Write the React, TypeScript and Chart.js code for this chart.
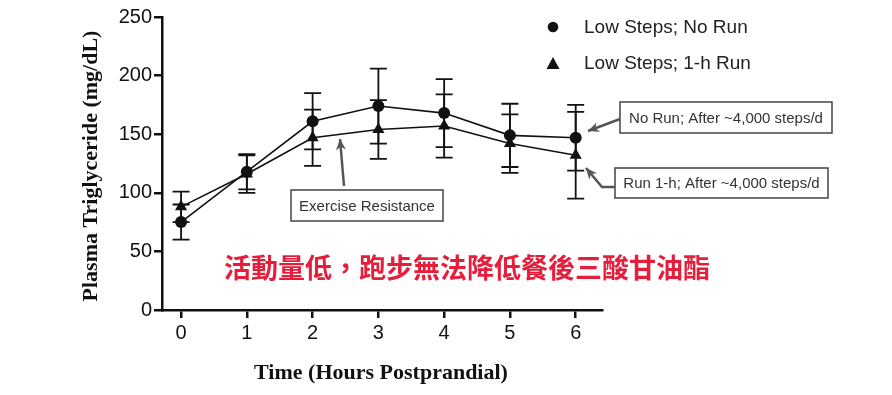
import React, { useEffect, useRef } from "react";
import { Chart, registerables } from "chart.js";

Chart.register(...registerables);

const hours = [0, 1, 2, 3, 4, 5, 6];
const noRunMean = [75, 118, 161, 174, 168, 149, 147];
const noRunErr = [15, 15, 24, 32, 29, 27, 28];
const runMean = [88, 116, 147, 154, 157, 142, 132];
const runErr = [13, 16, 24, 25, 27, 25, 37];
const yTicks = [0, 50, 100, 150, 200, 250];
const legendLabels = ["Low Steps; No Run", "Low Steps; 1-h Run"];
const xTitle = "Time (Hours Postprandial)";
const yTitle = "Plasma Triglyceride (mg/dL)";
const noteExercise = "Exercise Resistance";
const noteNoRun = "No Run; After ~4,000 steps/d";
const noteRun = "Run 1-h; After ~4,000 steps/d";
const headline = "活動量低，跑步無法降低餐後三酸甘油酯";

const SANS = '"Liberation Sans", Arial, Helvetica, sans-serif';
const SERIF = '"Liberation Serif", "Times New Roman", serif';
const CJK = '"Noto Sans CJK TC", "Noto Sans CJK SC", sans-serif';
const INK = "#111";

function arrowHead(ctx: CanvasRenderingContext2D, fx: number, fy: number, tx: number, ty: number) {
  const ang = Math.atan2(ty - fy, tx - fx);
  const len = 11;
  const w = 5;
  ctx.beginPath();
  ctx.moveTo(tx, ty);
  ctx.lineTo(tx - len * Math.cos(ang) + w * Math.sin(ang), ty - len * Math.sin(ang) - w * Math.cos(ang));
  ctx.lineTo(tx - len * Math.cos(ang) * 0.7, ty - len * Math.sin(ang) * 0.7);
  ctx.lineTo(tx - len * Math.cos(ang) - w * Math.sin(ang), ty - len * Math.sin(ang) + w * Math.cos(ang));
  ctx.closePath();
  ctx.fill();
}

function polyArrow(ctx: CanvasRenderingContext2D, pts: number[][]) {
  ctx.save();
  ctx.strokeStyle = "#555";
  ctx.fillStyle = "#555";
  ctx.lineWidth = 2.5;
  ctx.beginPath();
  ctx.moveTo(pts[0][0], pts[0][1]);
  for (let i = 1; i < pts.length; i++) ctx.lineTo(pts[i][0], pts[i][1]);
  ctx.stroke();
  const a = pts[pts.length - 2];
  const b = pts[pts.length - 1];
  arrowHead(ctx, a[0], a[1], b[0], b[1]);
  ctx.restore();
}

function noteBox(ctx: CanvasRenderingContext2D, text: string, x: number, y: number, w: number, h: number) {
  ctx.save();
  ctx.fillStyle = "#fff";
  ctx.fillRect(x, y, w, h);
  ctx.strokeStyle = "#444";
  ctx.lineWidth = 1.5;
  ctx.strokeRect(x, y, w, h);
  ctx.fillStyle = "#333";
  ctx.font = `15px ${SANS}`;
  ctx.textAlign = "center";
  ctx.textBaseline = "middle";
  ctx.fillText(text, x + w / 2, y + h / 2 + 1);
  ctx.restore();
}

const errorBars = {
  id: "errorBars",
  beforeDatasetsDraw(chart: any) {
    const ctx = chart.ctx;
    const xs = chart.scales.x;
    const ys = chart.scales.y;
    const sets = [
      { m: noRunMean, e: noRunErr },
      { m: runMean, e: runErr },
    ];
    ctx.save();
    ctx.strokeStyle = INK;
    ctx.lineWidth = 1.8;
    sets.forEach((s) => {
      hours.forEach((h, i) => {
        const px = xs.getPixelForValue(h);
        const top = ys.getPixelForValue(s.m[i] + s.e[i]);
        const bot = ys.getPixelForValue(s.m[i] - s.e[i]);
        ctx.beginPath();
        ctx.moveTo(px, top);
        ctx.lineTo(px, bot);
        ctx.moveTo(px - 8.5, top);
        ctx.lineTo(px + 8.5, top);
        ctx.moveTo(px - 8.5, bot);
        ctx.lineTo(px + 8.5, bot);
        ctx.stroke();
      });
    });
    ctx.restore();
  },
};

const decorations = {
  id: "decorations",
  afterDraw(chart: any) {
    const ctx = chart.ctx;
    const area = chart.chartArea;
    ctx.save();
    // axis titles
    ctx.fillStyle = INK;
    ctx.font = `bold 22px ${SERIF}`;
    ctx.textAlign = "center";
    ctx.textBaseline = "middle";
    ctx.fillText(xTitle, (area.left + area.right) / 2 - 1, 373);
    ctx.save();
    ctx.translate(91, 166);
    ctx.rotate(-Math.PI / 2);
    ctx.fillText(yTitle, 0, 0);
    ctx.restore();

    // legend
    ctx.fillStyle = INK;
    ctx.beginPath();
    ctx.arc(553, 27, 5.3, 0, Math.PI * 2);
    ctx.fill();
    ctx.beginPath();
    ctx.moveTo(553, 57);
    ctx.lineTo(559.5, 69);
    ctx.lineTo(546.5, 69);
    ctx.closePath();
    ctx.fill();
    ctx.fillStyle = "#222";
    ctx.font = `19px ${SANS}`;
    ctx.textAlign = "left";
    ctx.fillText(legendLabels[0], 584, 28);
    ctx.fillText(legendLabels[1], 584, 64);

    // notes
    noteBox(ctx, noteExercise, 291, 190, 152, 31);
    polyArrow(ctx, [[344, 186], [340, 139]]);
    noteBox(ctx, noteNoRun, 620, 102, 212, 31);
    polyArrow(ctx, [[620, 119], [588, 131]]);
    noteBox(ctx, noteRun, 615, 168, 213, 30);
    polyArrow(ctx, [[615, 187], [602, 187], [586, 168]]);

    // headline
    ctx.fillStyle = "#e61e3c";
    ctx.font = `bold 27px ${CJK}`;
    ctx.textAlign = "center";
    ctx.textBaseline = "middle";
    ctx.fillText(headline, 467, 268);
    ctx.restore();
  },
};

export default function App() {
  const ref = useRef<HTMLCanvasElement>(null);
  useEffect(() => {
    document.body.style.margin = "0";
    const axisCommon = {
      grid: {
        display: true,
        drawOnChartArea: false,
        drawTicks: true,
        tickLength: 8,
        lineWidth: 2.5,
        color: INK,
      },
      border: { display: true, width: 2.5, color: INK },
    };
    const chart = new Chart(ref.current as HTMLCanvasElement, {
      type: "line",
      data: {
        datasets: [
          {
            label: legendLabels[0],
            data: hours.map((h, i) => ({ x: h, y: noRunMean[i] })),
            borderColor: INK,
            backgroundColor: INK,
            borderWidth: 1.6,
            pointStyle: "circle",
            pointRadius: 6,
            pointBorderWidth: 0,
          },
          {
            label: legendLabels[1],
            data: hours.map((h, i) => ({ x: h, y: runMean[i] })),
            borderColor: INK,
            backgroundColor: INK,
            borderWidth: 1.6,
            pointStyle: "triangle",
            pointRadius: 7,
            pointBorderWidth: 0,
          },
        ],
      },
      options: {
        responsive: false,
        animation: false,
        devicePixelRatio: 1,
        layout: { padding: { top: 17, right: 290, left: 0, bottom: 0 } },
        plugins: { legend: { display: false }, tooltip: { enabled: false } },
        scales: {
          x: {
            type: "linear",
            min: -0.29,
            max: 6.4,
            ...axisCommon,
            afterBuildTicks: (scale: any) => {
              scale.ticks = hours.map((v) => ({ value: v }));
            },
            afterFit: (scale: any) => {
              scale.height = 85;
            },
            ticks: {
              color: INK,
              padding: 3,
              font: { size: 20, family: SANS },
              autoSkip: false,
              maxRotation: 0,
            },
          },
          y: {
            type: "linear",
            min: 0,
            max: 250,
            ...axisCommon,
            afterBuildTicks: (scale: any) => {
              scale.ticks = yTicks.map((v) => ({ value: v }));
            },
            afterFit: (scale: any) => {
              scale.width = 162;
            },
            ticks: {
              color: INK,
              padding: 2,
              font: { size: 20, family: SANS },
            },
          },
        },
      } as any,
      plugins: [errorBars, decorations],
    });
    return () => chart.destroy();
  }, []);
  return (
    <div style={{ width: 892, height: 395, background: "#fff" }}>
      <canvas ref={ref} width={892} height={395} />
    </div>
  );
}
